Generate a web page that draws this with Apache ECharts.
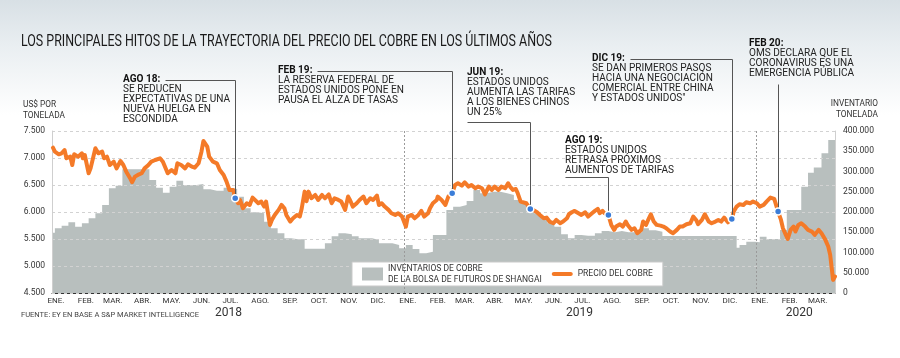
<!DOCTYPE html>
<html><head><meta charset="utf-8">
<script src="https://cdn.jsdelivr.net/npm/echarts@6/dist/echarts.min.js"></script>
<style>
html,body{margin:0;padding:0;width:900px;height:358px;overflow:hidden;background:#fff;}
#c{width:900px;height:358px;background:linear-gradient(180deg,#d8e0e5 0px,#e9eef1 45px,#ffffff 115px);}
</style></head><body><div id="c"></div>
<script>
const FONT = 'Roboto, "Liberation Sans", sans-serif';

const titleText = 'LOS PRINCIPALES HITOS DE LA TRAYECTORIA DEL PRECIO DEL COBRE EN LOS ÚLTIMOS AÑOS';
const sourceText = 'FUENTE: EY EN BASE A S&P MARKET INTELLIGENCE';
const leftUnit = ['US$ POR', 'TONELADA'];
const rightUnit = ['INVENTARIO', 'TONELADA'];
const monthLabels = ['ENE.','FEB.','MAR.','ABR.','MAY.','JUN.','JUL.','AGO.','SEP.','OCT.','NOV.','DIC.'];
const yearLabels = ['2018','2019','2020'];
const yearLabelDates = ['2018-07-03','2019-07-02','2020-02-15'];
const yearLines = ['2019-01-01','2020-01-01'];
const axisStart = '2018-01-01';
const axisEnd = '2020-03-23';

const priceName = 'PRECIO DEL COBRE';
const invName = 'INVENTARIOS DE COBRE\nDE LA BOLSA DE FUTUROS DE SHANGAI';

const priceDates = ['2018-01-02','2018-01-04','2018-01-08','2018-01-11','2018-01-14','2018-01-16','2018-01-20','2018-01-22','2018-01-24','2018-01-28','2018-02-01','2018-02-02','2018-02-04','2018-02-08','2018-02-10','2018-02-15','2018-02-18','2018-02-22','2018-02-24','2018-02-27','2018-03-02','2018-03-06','2018-03-09','2018-03-13','2018-03-16','2018-03-19','2018-03-23','2018-03-25','2018-03-28','2018-03-31','2018-04-04','2018-04-07','2018-04-11','2018-04-14','2018-04-18','2018-04-23','2018-04-26','2018-05-01','2018-05-05','2018-05-09','2018-05-11','2018-05-15','2018-05-19','2018-05-22','2018-05-26','2018-05-29','2018-06-02','2018-06-05','2018-06-07','2018-06-09','2018-06-11','2018-06-13','2018-06-15','2018-06-17','2018-06-21','2018-06-24','2018-06-28','2018-07-01','2018-07-04','2018-07-06','2018-07-08','2018-07-10','2018-07-13','2018-07-15','2018-07-18','2018-07-22','2018-07-25','2018-07-28','2018-07-30','2018-08-03','2018-08-06','2018-08-09','2018-08-11','2018-08-13','2018-08-15','2018-08-17','2018-08-20','2018-08-24','2018-08-27','2018-08-30','2018-09-01','2018-09-05','2018-09-08','2018-09-12','2018-09-15','2018-09-17','2018-09-20','2018-09-22','2018-09-24','2018-09-27','2018-10-01','2018-10-04','2018-10-08','2018-10-11','2018-10-15','2018-10-18','2018-10-21','2018-10-25','2018-10-28','2018-11-01','2018-11-04','2018-11-06','2018-11-09','2018-11-13','2018-11-16','2018-11-20','2018-11-23','2018-11-27','2018-11-30','2018-12-04','2018-12-06','2018-12-09','2018-12-12','2018-12-16','2018-12-19','2018-12-23','2018-12-26','2018-12-30','2019-01-01','2019-01-03','2019-01-05','2019-01-09','2019-01-12','2019-01-16','2019-01-19','2019-01-22','2019-01-26','2019-01-28','2019-01-31','2019-02-04','2019-02-05','2019-02-09','2019-02-13','2019-02-16','2019-02-20','2019-02-23','2019-02-26','2019-03-02','2019-03-05','2019-03-09','2019-03-12','2019-03-16','2019-03-19','2019-03-23','2019-03-26','2019-03-30','2019-04-02','2019-04-05','2019-04-09','2019-04-12','2019-04-16','2019-04-19','2019-04-21','2019-04-24','2019-04-27','2019-04-29','2019-05-02','2019-05-04','2019-05-08','2019-05-12','2019-05-15','2019-05-19','2019-05-22','2019-05-26','2019-05-29','2019-06-01','2019-06-05','2019-06-08','2019-06-12','2019-06-15','2019-06-19','2019-06-21','2019-06-24','2019-06-27','2019-07-01','2019-07-04','2019-07-08','2019-07-11','2019-07-15','2019-07-18','2019-07-21','2019-07-23','2019-07-26','2019-07-28','2019-08-01','2019-08-04','2019-08-07','2019-08-09','2019-08-13','2019-08-16','2019-08-19','2019-08-21','2019-08-25','2019-08-28','2019-08-31','2019-09-04','2019-09-06','2019-09-09','2019-09-12','2019-09-14','2019-09-17','2019-09-20','2019-09-24','2019-09-27','2019-09-30','2019-10-04','2019-10-07','2019-10-11','2019-10-14','2019-10-17','2019-10-21','2019-10-25','2019-10-28','2019-10-31','2019-11-02','2019-11-06','2019-11-09','2019-11-13','2019-11-16','2019-11-20','2019-11-23','2019-11-26','2019-11-29','2019-12-03','2019-12-07','2019-12-09','2019-12-12','2019-12-15','2019-12-19','2019-12-22','2019-12-26','2019-12-29','2020-01-02','2020-01-05','2020-01-09','2020-01-12','2020-01-16','2020-01-20','2020-01-22','2020-01-24','2020-01-27','2020-01-29','2020-02-01','2020-02-03','2020-02-06','2020-02-09','2020-02-11','2020-02-14','2020-02-17','2020-02-21','2020-02-24','2020-02-28','2020-03-02','2020-03-06','2020-03-09','2020-03-13','2020-03-16','2020-03-18','2020-03-20','2020-03-21','2020-03-23'];
const priceValues = [7191,7117,7068,7087,7148,6995,7025,6870,7068,7025,7087,6995,7056,6717,6808,7180,7087,7117,6995,7025,6870,6932,6808,6945,6870,6747,6625,6551,6655,6686,6717,6808,6870,6932,6963,6995,6932,6717,6778,6717,6902,6870,6808,6883,6840,6821,6902,7117,7315,7290,7210,7025,7056,6932,6902,6778,6686,6562,6408,6377,6408,6254,6162,6223,6070,6162,6131,6266,6286,6162,6193,6100,6193,5977,5761,5853,5946,6039,6131,6070,5946,5823,5884,5946,5915,6070,6377,6200,6377,6254,6316,6223,6316,6254,6327,6162,6254,6223,6193,6039,6286,6223,6100,6162,6223,6286,6162,6254,6223,6304,6131,6162,6100,6039,5977,5946,5977,5915,5946,5730,5915,5946,5884,5946,6020,5915,5977,6070,6162,6223,6286,6223,6131,6286,6346,6501,6532,6488,6551,6470,6501,6440,6470,6440,6327,6470,6408,6470,6408,6470,6440,6532,6470,6408,6427,6346,6193,6223,6162,6057,6039,5995,5946,5884,5896,5823,5792,5853,5792,5823,5884,5958,5995,6020,5977,5946,5995,5915,5977,6020,6057,5977,6020,5977,5946,5761,5669,5730,5773,5730,5823,5761,5669,5699,5607,5669,5823,5761,5884,5958,5823,5761,5748,5730,5699,5638,5607,5669,5730,5730,5773,5792,5915,5853,5773,5853,5958,5823,5792,5823,5853,5823,5896,5810,5872,6008,6100,6143,6131,6180,6162,6193,6162,6100,6131,6193,6266,6242,6223,6008,5853,5699,5576,5502,5669,5730,5638,5761,5792,5730,5669,5638,5576,5669,5607,5484,5360,5206,4898,4743,4805];

const invDates = ['2018-01-01','2018-01-04','2018-01-11','2018-01-18','2018-01-25','2018-02-01','2018-02-08','2018-02-15','2018-02-22','2018-03-01','2018-03-08','2018-03-15','2018-03-22','2018-03-29','2018-04-05','2018-04-12','2018-04-19','2018-04-26','2018-05-03','2018-05-10','2018-05-17','2018-05-24','2018-05-31','2018-06-07','2018-06-14','2018-06-21','2018-06-28','2018-07-05','2018-07-12','2018-07-19','2018-07-26','2018-08-02','2018-08-09','2018-08-16','2018-08-23','2018-08-30','2018-09-06','2018-09-13','2018-09-20','2018-09-27','2018-10-04','2018-10-11','2018-10-18','2018-10-25','2018-11-01','2018-11-08','2018-11-15','2018-11-22','2018-11-29','2018-12-06','2018-12-13','2018-12-20','2018-12-27','2019-01-03','2019-01-10','2019-01-17','2019-01-24','2019-01-31','2019-02-07','2019-02-14','2019-02-21','2019-02-28','2019-03-07','2019-03-14','2019-03-21','2019-03-28','2019-04-04','2019-04-11','2019-04-18','2019-04-25','2019-05-02','2019-05-09','2019-05-16','2019-05-23','2019-05-30','2019-06-06','2019-06-13','2019-06-20','2019-06-27','2019-07-04','2019-07-11','2019-07-18','2019-07-25','2019-08-01','2019-08-08','2019-08-15','2019-08-22','2019-08-29','2019-09-05','2019-09-12','2019-09-19','2019-09-26','2019-10-03','2019-10-10','2019-10-17','2019-10-24','2019-10-31','2019-11-07','2019-11-14','2019-11-21','2019-11-28','2019-12-05','2019-12-12','2019-12-15','2019-12-22','2019-12-31','2020-01-05','2020-01-12','2020-01-19','2020-01-26','2020-02-02','2020-02-10','2020-02-17','2020-02-24','2020-03-01','2020-03-09','2020-03-16','2020-03-23'];
const invValues = [148900,159700,166200,174500,163700,172100,184400,196800,217300,258500,264900,305400,305400,305400,305400,279000,260000,247600,262500,277300,266700,266700,269100,256000,252600,252600,260000,256800,237800,209100,199200,196800,176000,159700,147400,135000,133000,132600,109000,109000,109000,122700,140000,147400,145000,140000,135000,135000,131000,123000,123000,118500,110400,118500,108600,98000,102000,143200,143200,204900,213100,217300,227100,254300,246200,250100,250100,246200,242000,229600,221500,209100,196800,184400,172100,163700,144900,135000,143200,141500,141500,147400,153100,149900,153100,150000,150000,150000,160000,155000,151400,140700,140700,140700,140700,140700,140700,140700,140700,140700,140700,140700,112000,118500,126700,125200,139000,133300,133300,155500,205000,205000,262500,297000,310000,345000,378000,378000];

const eventDates = ['2018-07-10','2019-02-20','2019-05-12','2019-08-01','2019-12-07','2020-01-24'];
const eventHeads = ['AGO 18:','FEB 19:','JUN 19:','AGO 19:','DIC 19:','FEB 20:'];
const eventTexts = [
  ['SE REDUCEN','EXPECTATIVAS DE UNA','NUEVA HUELGA EN','ESCONDIDA'],
  ['LA RESERVA FEDERAL DE','ESTADOS UNIDOS PONE EN','PAUSA EL ALZA DE TASAS'],
  ['ESTADOS UNIDOS','AUMENTA LAS TARIFAS','A LOS BIENES CHINOS','UN 25%'],
  ['ESTADOS UNIDOS','RETRASA PRÓXIMOS','AUMENTOS DE TARIFAS'],
  ['SE DAN PRIMEROS PASOS','HACIA UNA NEGOCIACIÓN','COMERCIAL ENTRE CHINA','Y ESTADOS UNIDOS"'],
  ['OMS DECLARA QUE EL','CORONAVIRUS ES UNA','EMERGENCIA PÚBLICA']
];

// ---- layout (positions of annotation text blocks) ----
const noteLayout = [
  {x:123, y:79,  leader:'head'},
  {x:278, y:70,  leader:'head'},
  {x:467, y:72,  leader:'below', by:122},
  {x:565, y:140, leader:'below', by:177},
  {x:592, y:58,  leader:'head'},
  {x:749, y:43,  leader:'vert', by:84}
];
const NOTE_LH = 10.1;
const ORANGE = '#f47a28', GRAY = '#b8bfbe', BLUE = '#3b7dd8';
const LINE_ICON = 'path://M2,0L19,0C20.1,0 21,0.9 21,2C21,3.1 20.1,4 19,4L2,4C0.9,4 0,3.1 0,2C0,0.9 0.9,0 2,0Z';

function toTs(s){ const p = s.split('-').map(Number); return new Date(p[0], p[1]-1, p[2]).getTime(); }
function fmtThousands(v){ return String(v).replace(/\B(?=(\d{3})+(?!\d))/g, '.'); }

const startTs = toTs(axisStart), endTs = toTs(axisEnd);
const monthTicks = [], monthLabelPos = [];
for (let y = 2018; y <= 2020; y++) for (let m = 0; m < 12; m++) {
  const t = new Date(y, m, 1).getTime();
  if (t > endTs) break;
  monthTicks.push(t);
  monthLabelPos.push(new Date(y, m, 5).getTime());
}
const yearPos = yearLabelDates.map(toTs);

const cv = document.createElement('canvas').getContext('2d');
function tw(text, size, weight){ cv.font = (weight || 'normal') + ' ' + size + 'px ' + FONT; return cv.measureText(text).width; }

const chart = echarts.init(document.getElementById('c'), null, {renderer:'canvas'});

const option = {
  backgroundColor: 'transparent',
  animation: false,
  textStyle: {fontFamily: FONT},
  grid: {left:52, right:65, top:131, bottom:65, containLabel:false, outerBoundsMode:'none'},
  legend: {
    left: 352, top: 262, orient:'horizontal',
    padding: [1, 10, 1, 10], itemGap: 10, itemWidth: 21, itemHeight: 13,
    backgroundColor:'#ffffff', borderColor:'#c9c9c9', borderWidth:1, borderRadius:0,
    symbolKeepAspect: true,
    textStyle: {fontFamily: FONT, fontSize: 8.5, color:'#333', lineHeight: 11},
    data: [{name: invName, icon:'rect'}, {name: priceName, icon: LINE_ICON}],
    selectedMode: false
  },
  xAxis: [{
    type:'value', min:startTs, max:endTs,
    axisLine:{show:true, lineStyle:{color:'#333', width:1.2}},
    axisTick:{show:true, inside:true, length:3, customValues: monthTicks, lineStyle:{color:'#666'}},
    axisLabel:{customValues: monthLabelPos, margin:4, fontSize:8, color:'#333', fontFamily:FONT,
      formatter: v => monthLabels[new Date(v).getMonth()]},
    splitLine:{show:false}
  },{
    type:'value', min:startTs, max:endTs, position:'bottom',
    axisLine:{show:false}, axisTick:{show:false},
    axisLabel:{customValues: yearPos, margin:14, fontSize:12, color:'#333', fontFamily:FONT,
      formatter: v => { const k = yearPos.indexOf(v); return k >= 0 ? yearLabels[k] : ''; }},
    splitLine:{show:false}
  }],
  yAxis: [{
    type:'value', min:4500, max:7500, interval:500, position:'left', z:3,
    axisLine:{show:true, lineStyle:{color:'#cfcfcf'}}, axisTick:{show:false},
    axisLabel:{margin:7, fontSize:8.5, color:'#333', fontFamily:FONT, formatter: fmtThousands},
    splitLine:{show:true, lineStyle:{color:'#d2d2d2', type:[3,3], width:1}}
  },{
    type:'value', min:0, max:400000, interval:50000, position:'right', z:3,
    axisLine:{show:true, lineStyle:{color:'#cfcfcf'}}, axisTick:{show:false},
    axisLabel:{margin:8, fontSize:8.5, color:'#333', fontFamily:FONT, formatter: fmtThousands},
    splitLine:{show:false}
  }],
  series: [{
    name: invName, type:'line', step:'end', xAxisIndex:0, yAxisIndex:1, z:2,
    symbol:'none', showSymbol:false, itemStyle:{color:GRAY},
    lineStyle:{width:0, color:GRAY}, areaStyle:{color:GRAY, opacity:1},
    data: invDates.map((d,i) => [toTs(d), invValues[i]])
  },{
    name: priceName, type:'line', xAxisIndex:0, yAxisIndex:0, z:5,
    symbol:'none', showSymbol:false, itemStyle:{color:ORANGE},
    lineStyle:{width:4, color:ORANGE, cap:'round', join:'round'},
    data: priceDates.map((d,i) => [toTs(d), priceValues[i]]),
    markLine:{silent:true, symbol:'none', label:{show:false},
      lineStyle:{color:'#9a9a9a', type:[2,2], width:1},
      data: yearLines.map(d => ({xAxis: toTs(d)}))}
  },{
    name:'hitos', type:'scatter', xAxisIndex:0, yAxisIndex:0, z:60,
    symbolSize:7, itemStyle:{color:BLUE, borderColor:'#ffffff', borderWidth:1.5, opacity:1},
    data: eventDates.map(d => [toTs(d), priceValues[priceDates.indexOf(d)]])
  }]
};
chart.setOption(option);

// ---- annotations and texts ----
const g = [];
function txt(x, y, text, size, o){
  o = o || {};
  return {type:'text', x:x, y:y, scaleX:o.sx || 1, z:100, silent:true,
    style:{text:text, fontSize:size, fontFamily:FONT, fontWeight:o.w || 'normal', fill:o.c || '#222',
      align:o.align || 'left', verticalAlign:'middle'}};
}
function pl(points){
  return {type:'polyline', z:50, silent:true,
    shape:{points: points.map(p => [Math.round(p[0]) + 0.5, Math.round(p[1]) + 0.5])},
    style:{stroke:'#555', lineWidth:1, fill:null}};
}

const TS = 17;
g.push(txt(21, 42, titleText, TS, {sx: 531 / tw(titleText, TS), c:'#1a1a1a'}));
g.push(txt(21, 315, sourceText, 8, {sx: 178 / tw(sourceText, 8), c:'#444'}));
const US = 9;
const usx = 42 / tw('TONELADA', US);
g.push(txt(23, 105, leftUnit[0], US, {sx:usx, c:'#333'}));
g.push(txt(23, 116, leftUnit[1], US, {sx:usx, c:'#333'}));
g.push(txt(878, 104, rightUnit[0], US, {sx:usx, c:'#333', align:'right'}));
g.push(txt(878, 115, rightUnit[1], US, {sx:usx, c:'#333', align:'right'}));

const NS = 10;
const nsx = 107 / tw('EXPECTATIVAS DE UNA', NS);
eventDates.forEach((d, i) => {
  const L = noteLayout[i];
  const val = priceValues[priceDates.indexOf(d)];
  const p = chart.convertToPixel({xAxisIndex:0, yAxisIndex:0}, [toTs(d), val]);
  g.push(txt(L.x, L.y, eventHeads[i], NS, {sx:nsx, w:'bold', c:'#111'}));
  eventTexts[i].forEach((line, j) => g.push(txt(L.x, L.y + (j + 1) * NOTE_LH, line, NS, {sx:nsx, c:'#222'})));
  const dotTop = p[1] - 3;
  if (L.leader === 'head') {
    const hx = L.x + tw(eventHeads[i], NS, 'bold') * nsx + 5;
    g.push(pl([[hx, L.y + 1], [p[0], L.y + 1], [p[0], dotTop]]));
  } else if (L.leader === 'below') {
    g.push(pl([[L.x, L.by], [p[0], L.by], [p[0], dotTop]]));
  } else {
    g.push(pl([[p[0], L.by], [p[0], dotTop]]));
  }
});
chart.setOption({graphic: g});
</script>
</body></html>
